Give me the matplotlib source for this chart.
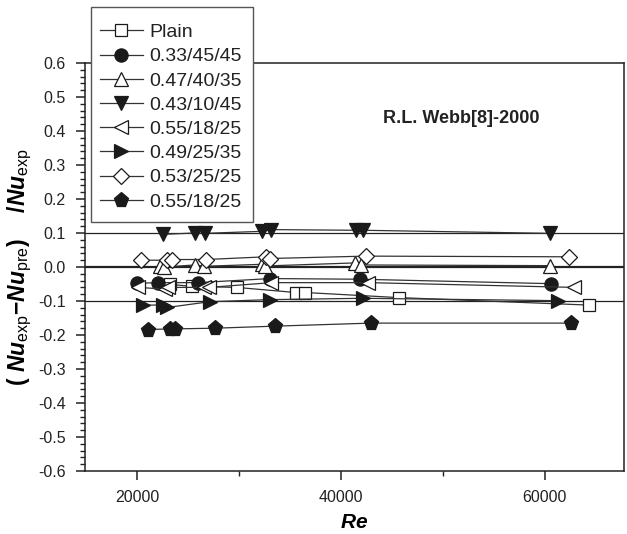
import matplotlib
matplotlib.use("Agg")
import matplotlib.pyplot as plt
from matplotlib.ticker import MultipleLocator
from matplotlib.patches import Rectangle

plt.rcParams['font.family'] = ['Liberation Sans', 'DejaVu Sans']
plt.rcParams['mathtext.fontset'] = 'custom'
plt.rcParams['mathtext.it'] = 'Liberation Sans:bold:italic'
plt.rcParams['mathtext.bf'] = 'Liberation Sans:bold'
plt.rcParams['mathtext.rm'] = 'Liberation Sans'

# ---- data ----
plain_re = [23240, 25360, 29770, 35560, 36470, 45690, 64340]
plain_v = [-0.051, -0.057, -0.060, -0.075, -0.075, -0.090, -0.112]

c_re = [19970, 22090, 26010, 33100, 41930, 60650]
c_v = [-0.048, -0.046, -0.046, -0.034, -0.036, -0.049]

tu_re = [22250, 22700, 25690, 26570, 32320, 32550, 41370, 42030, 60490]
tu_v = [0.004, 0.000, 0.006, 0.002, 0.008, 0.003, 0.012, 0.006, 0.004]

td_re = [22520, 25690, 26670, 32320, 33140, 41540, 42190, 60490]
td_v = [0.096, 0.100, 0.099, 0.105, 0.110, 0.108, 0.108, 0.099]

tl_re = [20130, 22750, 23070, 26570, 27060, 33200, 42680, 62940]
tl_v = [-0.060, -0.065, -0.060, -0.060, -0.060, -0.046, -0.046, -0.060]

tr_re = [20620, 22580, 22970, 27160, 33040, 42190, 61300]
tr_v = [-0.112, -0.112, -0.119, -0.102, -0.096, -0.092, -0.099]

d_re = [20390, 22970, 23400, 26760, 32650, 33040, 42450, 62380]
d_v = [0.020, 0.020, 0.022, 0.022, 0.030, 0.025, 0.032, 0.030]

p_re = [21110, 23240, 23730, 27650, 33530, 43010, 62620]
p_v = [-0.184, -0.182, -0.182, -0.180, -0.174, -0.165, -0.165]

labels = ['Plain', '0.33/45/45', '0.47/40/35', '0.43/10/45',
          '0.55/18/25', '0.49/25/35', '0.53/25/25', '0.55/18/25']
ref_lines = [0.1, 0.0, -0.1]

W, H = 627, 534
fig = plt.figure(figsize=(W / 100, H / 100), dpi=100)
ax = fig.add_axes([85 / W, 1 - 471 / H, (624 - 85) / W, (471 - 63) / H])

for yv in ref_lines:
    ax.axhline(yv, color='#222222', lw=1.6 if yv == 0 else 0.9, zorder=1)

lc = '#333333'
series = [
    (plain_re, plain_v, 's', 'white', 9),
    (c_re, c_v, 'o', '#1a1a1a', 9.5),
    (tu_re, tu_v, '^', 'white', 9.5),
    (td_re, td_v, 'v', '#1a1a1a', 10),
    (tl_re, tl_v, '<', 'white', 10),
    (tr_re, tr_v, '>', '#1a1a1a', 10),
    (d_re, d_v, 'D', 'white', 8),
    (p_re, p_v, 'p', '#1a1a1a', 11),
]
handles = []
for (xs, ys, m, fc, ms), lab in zip(series, labels):
    h, = ax.plot(xs, ys, color=lc, lw=0.9, marker=m, ms=ms, mfc=fc,
                 mec='#1a1a1a', mew=0.9, label=lab, zorder=3)
    handles.append(h)

ax.set_xlim(14900, 67800)
ax.set_ylim(-0.6, 0.6)
ax.xaxis.set_major_locator(MultipleLocator(20000))
ax.xaxis.set_minor_locator(MultipleLocator(10000))
ax.yaxis.set_major_locator(MultipleLocator(0.1))
ax.yaxis.set_minor_locator(MultipleLocator(0.02))
ax.tick_params(which='major', direction='out', length=6.5, width=1.1,
               labelsize=11.5, colors='#222222')
ax.tick_params(which='minor', direction='out', length=3.5, width=1.0,
               colors='#222222')
ax.tick_params(axis='x', which='major', pad=7)
ax.tick_params(axis='y', which='major', pad=7.5)
ax.yaxis.set_major_formatter(plt.FuncFormatter(lambda v, p: f'{v:.1f}'))
for s in ax.spines.values():
    s.set_linewidth(1.1)
    s.set_color('#222222')

ax.set_xlabel(r'$Re$', fontsize=15, labelpad=6)
ax.set_ylabel(r'$\mathbf{(}\ Nu_{\mathrm{exp}}\mathbf{-}Nu_{\mathrm{pre}}\mathbf{)}\ \ \ \ \mathbf{/}Nu_{\mathrm{exp}}$',
              fontsize=16.5, labelpad=3)

ax.text(0.553, 0.863, 'R.L. Webb[8]-2000', transform=ax.transAxes,
        fontsize=13, fontweight='bold', ha='left', va='center',
        color='#222222')

# legend frame (extends above the axes like the original)
fig.patches.append(Rectangle((91 / W, 1 - 222 / H), 162 / W, 215 / H,
                             transform=fig.transFigure, fc='white',
                             ec='#555555', lw=1.0, zorder=4))
leg = fig.legend(handles=handles, labels=labels, loc='upper left',
                 bbox_to_anchor=(100 / W, 1 - 23.5 / H), borderaxespad=0,
                 borderpad=0, fontsize=14, frameon=False,
                 handlelength=2.2, handletextpad=0.35, labelspacing=0.34)
leg.set_zorder(5)
for t in leg.get_texts():
    t.set_color('#222222')

fig.savefig('out.png', dpi=100)
